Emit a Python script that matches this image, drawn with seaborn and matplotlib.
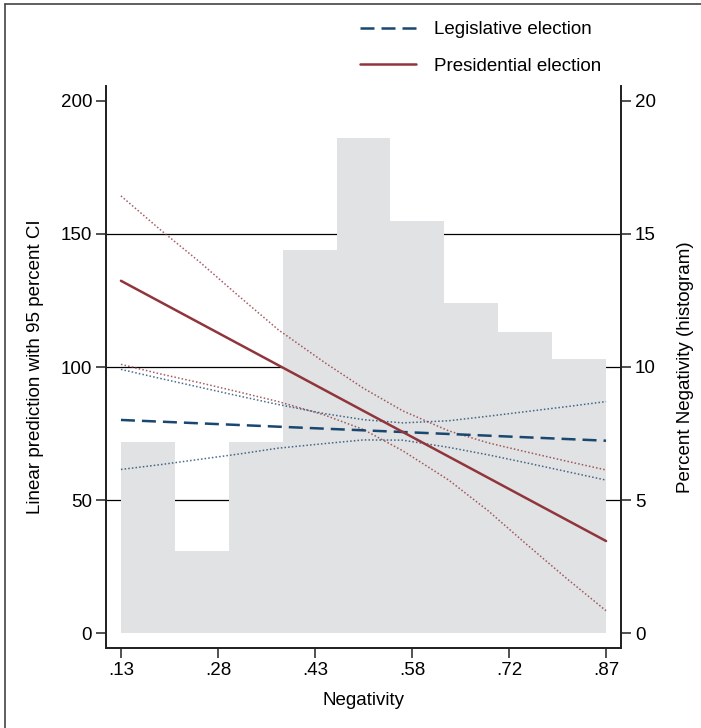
import numpy as np
import pandas as pd
import seaborn as sns
import matplotlib
matplotlib.use('Agg')
import matplotlib.pyplot as plt
from matplotlib.lines import Line2D

# histogram of Negativity (percent per bin)
bin_edges = [0.13, 0.2122, 0.2944, 0.3767, 0.4589, 0.5411, 0.6233, 0.7056, 0.7878, 0.87]
bin_pct = [7.2, 3.1, 7.2, 14.4, 18.6, 15.5, 12.4, 11.3, 10.3]

# fitted lines (straight) read at the two ends
neg_ends = [0.13, 0.87]
pres_fit = [132.4, 34.6]
leg_fit = [80.1, 72.3]

# 95% CI bands
neg = [0.13, 0.19, 0.25, 0.31, 0.37, 0.44, 0.50, 0.56, 0.63, 0.69, 0.75, 0.81, 0.87]
pres_hi = [164.3, 151.6, 139.5, 126.6, 114.0, 101.8, 92.0, 83.5, 76.0, 71.5, 68.0, 64.6, 61.3]
pres_lo = [101.0, 97.4, 94.1, 90.6, 87.0, 82.0, 76.5, 68.5, 57.5, 46.0, 33.1, 20.5, 8.4]
leg_hi = [99.1, 95.7, 92.4, 89.1, 85.9, 82.5, 80.2, 79.0, 79.8, 81.5, 83.3, 85.1, 87.0]
leg_lo = [61.5, 63.3, 65.3, 67.3, 69.5, 71.2, 72.6, 72.5, 69.8, 67.0, 63.9, 60.7, 57.5]

xtick_labels = ['.13', '.28', '.43', '.58', '.72', '.87']
left_ticks = [0, 50, 100, 150, 200]
right_ticks = [0, 5, 10, 15, 20]

navy = '#1a476f'
maroon = '#90353b'
bar_gray = '#e1e2e4'
fs = 13.5

sns.set_style('white')
plt.rcParams['font.family'] = ['Liberation Sans', 'DejaVu Sans']
plt.rcParams['font.size'] = fs
plt.rcParams['text.color'] = 'black'
plt.rcParams['axes.labelcolor'] = 'black'
plt.rcParams['xtick.color'] = 'black'
plt.rcParams['ytick.color'] = 'black'

fig = plt.figure(figsize=(7.01, 7.28), dpi=100)
ax = fig.add_axes([106/701, 80/728, 515/701, 562/728])
ax2 = ax.twinx()

# histogram on the right axis, gridlines under it
centers = [(bin_edges[i] + bin_edges[i+1]) / 2 for i in range(len(bin_pct))]
hist_df = pd.DataFrame({'neg': centers, 'pct': bin_pct})
sns.histplot(data=hist_df, x='neg', weights='pct', bins=bin_edges, stat='count',
             color=bar_gray, alpha=1, linewidth=0, ax=ax2)
ax2.set_yticks(right_ticks)
ax2.set_ylim(-0.56, 20.56)
for g in [5, 10, 15]:
    ax2.axhline(g, color='black', linewidth=0.9, zorder=0)
ax2.set_axisbelow(True)

# lines on the left axis, drawn above the bars
ax.set_zorder(ax2.get_zorder() + 1)
ax.patch.set_visible(False)
ax2.patch.set_visible(True)
ax2.patch.set_facecolor('white')

dot = (0, (1, 1.4))
for band, col in [(leg_hi, navy), (leg_lo, navy), (pres_hi, maroon), (pres_lo, maroon)]:
    sns.lineplot(x=neg, y=band, color=col, linewidth=1.1, linestyle=dot, alpha=0.8, ax=ax)
sns.lineplot(x=neg_ends, y=leg_fit, color=navy, linewidth=1.8, linestyle=(0, (5.6, 2.8)), ax=ax,
             label='Legislative election')
sns.lineplot(x=neg_ends, y=pres_fit, color=maroon, linewidth=1.8, ax=ax,
             label='Presidential election')

handles, labels = ax.get_legend_handles_labels()
ax.get_legend().remove()
fig.legend(handles, labels, loc='upper left', bbox_to_anchor=(360/701, 1 - 21/728),
           frameon=False, fontsize=fs, handlelength=3.0, handletextpad=0.96,
           labelspacing=1.05, borderpad=0, borderaxespad=0)

ax.set_xlim(0.1072, 0.8928)
ax.set_ylim(-5.6, 205.6)
ax.set_xticks(np.linspace(0.13, 0.87, 6))
ax.set_xticklabels(xtick_labels)
ax.set_yticks(left_ticks)
ax.set_xlabel('Negativity', fontsize=fs)
ax.set_ylabel('Linear prediction with 95 percent CI', fontsize=fs)
ax2.set_ylabel('Percent Negativity (histogram)', fontsize=fs)
ax.xaxis.set_label_coords(0.5, -0.078)
ax.yaxis.set_label_coords(-0.12, 0.5)
ax2.yaxis.set_label_coords(1.109, 0.5)

for a in (ax, ax2):
    a.spines['top'].set_visible(False)
    for s in ('left', 'right', 'bottom'):
        a.spines[s].set_color('#222222')
        a.spines[s].set_linewidth(1.3)
    a.tick_params(direction='out', length=7, width=1.1, color='#222222',
                  labelsize=fs, pad=3)
ax.tick_params(axis='y', left=True, right=False)
ax.tick_params(axis='x', bottom=True)
ax2.tick_params(axis='y', right=True, left=False)

# outer frame of the graph region (top and left edges visible)
fig.add_artist(Line2D([5/701, 5/701], [0, 1 - 4/728], color='#444444', linewidth=1.2))
fig.add_artist(Line2D([5/701, 1], [1 - 4/728, 1 - 4/728], color='#444444', linewidth=1.2))

fig.savefig('out.png', dpi=100)
